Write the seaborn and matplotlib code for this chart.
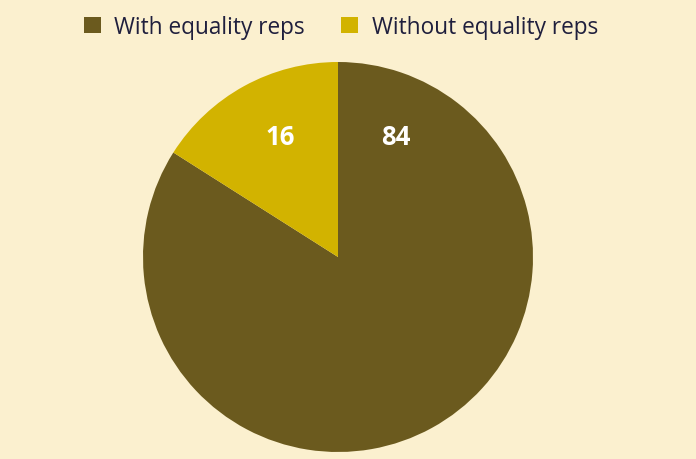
import numpy as np
import matplotlib
matplotlib.use("Agg")
import matplotlib.pyplot as plt
import seaborn as sns
from matplotlib.patches import Patch

categories = ["With equality reps", "Without equality reps"]
values = [84, 16]
colors = ["#6b5a1e", "#d2b300"]
bg = "#fbf0cf"

sns.set_theme(style="white")
plt.rcParams["font.family"] = ["Open Sans", "DejaVu Sans"]

fig = plt.figure(figsize=(6.96, 4.60), dpi=100, facecolor=bg)
ax = fig.add_axes([143 / 696, 7 / 460, 390 / 696, 390 / 460])
ax.set_facecolor(bg)

wedges, _ = ax.pie(values, colors=colors, startangle=90, counterclock=False,
                   radius=1.0, wedgeprops=dict(linewidth=0))
ax.set_xlim(-1, 1)
ax.set_ylim(-1, 1)
ax.set_aspect("equal")
ax.axis("off")

# small slice label near its mid-angle, big slice label mirrored across the top
w = wedges[1]
mid = np.deg2rad((w.theta1 + w.theta2) / 2 - 3)
r = 0.685
lx, ly = r * np.cos(mid), r * np.sin(mid)
ax.text(lx, ly, str(values[1]), ha="center", va="center", color="white",
        fontsize=18.5, fontweight="bold")
ax.text(-lx, ly, str(values[0]), ha="center", va="center", color="white",
        fontsize=18.5, fontweight="bold")

handles = [Patch(facecolor=c, edgecolor="none") for c in colors]
leg = fig.legend(handles, categories, loc="upper center", bbox_to_anchor=(0.49, 1.01),
                 ncol=2, frameon=False, fontsize=16.3, handlelength=0.75, handleheight=0.75,
                 handletextpad=0.6, columnspacing=1.6)
for t in leg.get_texts():
    t.set_color("#1f1f3d")

fig.savefig("out.png", dpi=100, facecolor=bg)
